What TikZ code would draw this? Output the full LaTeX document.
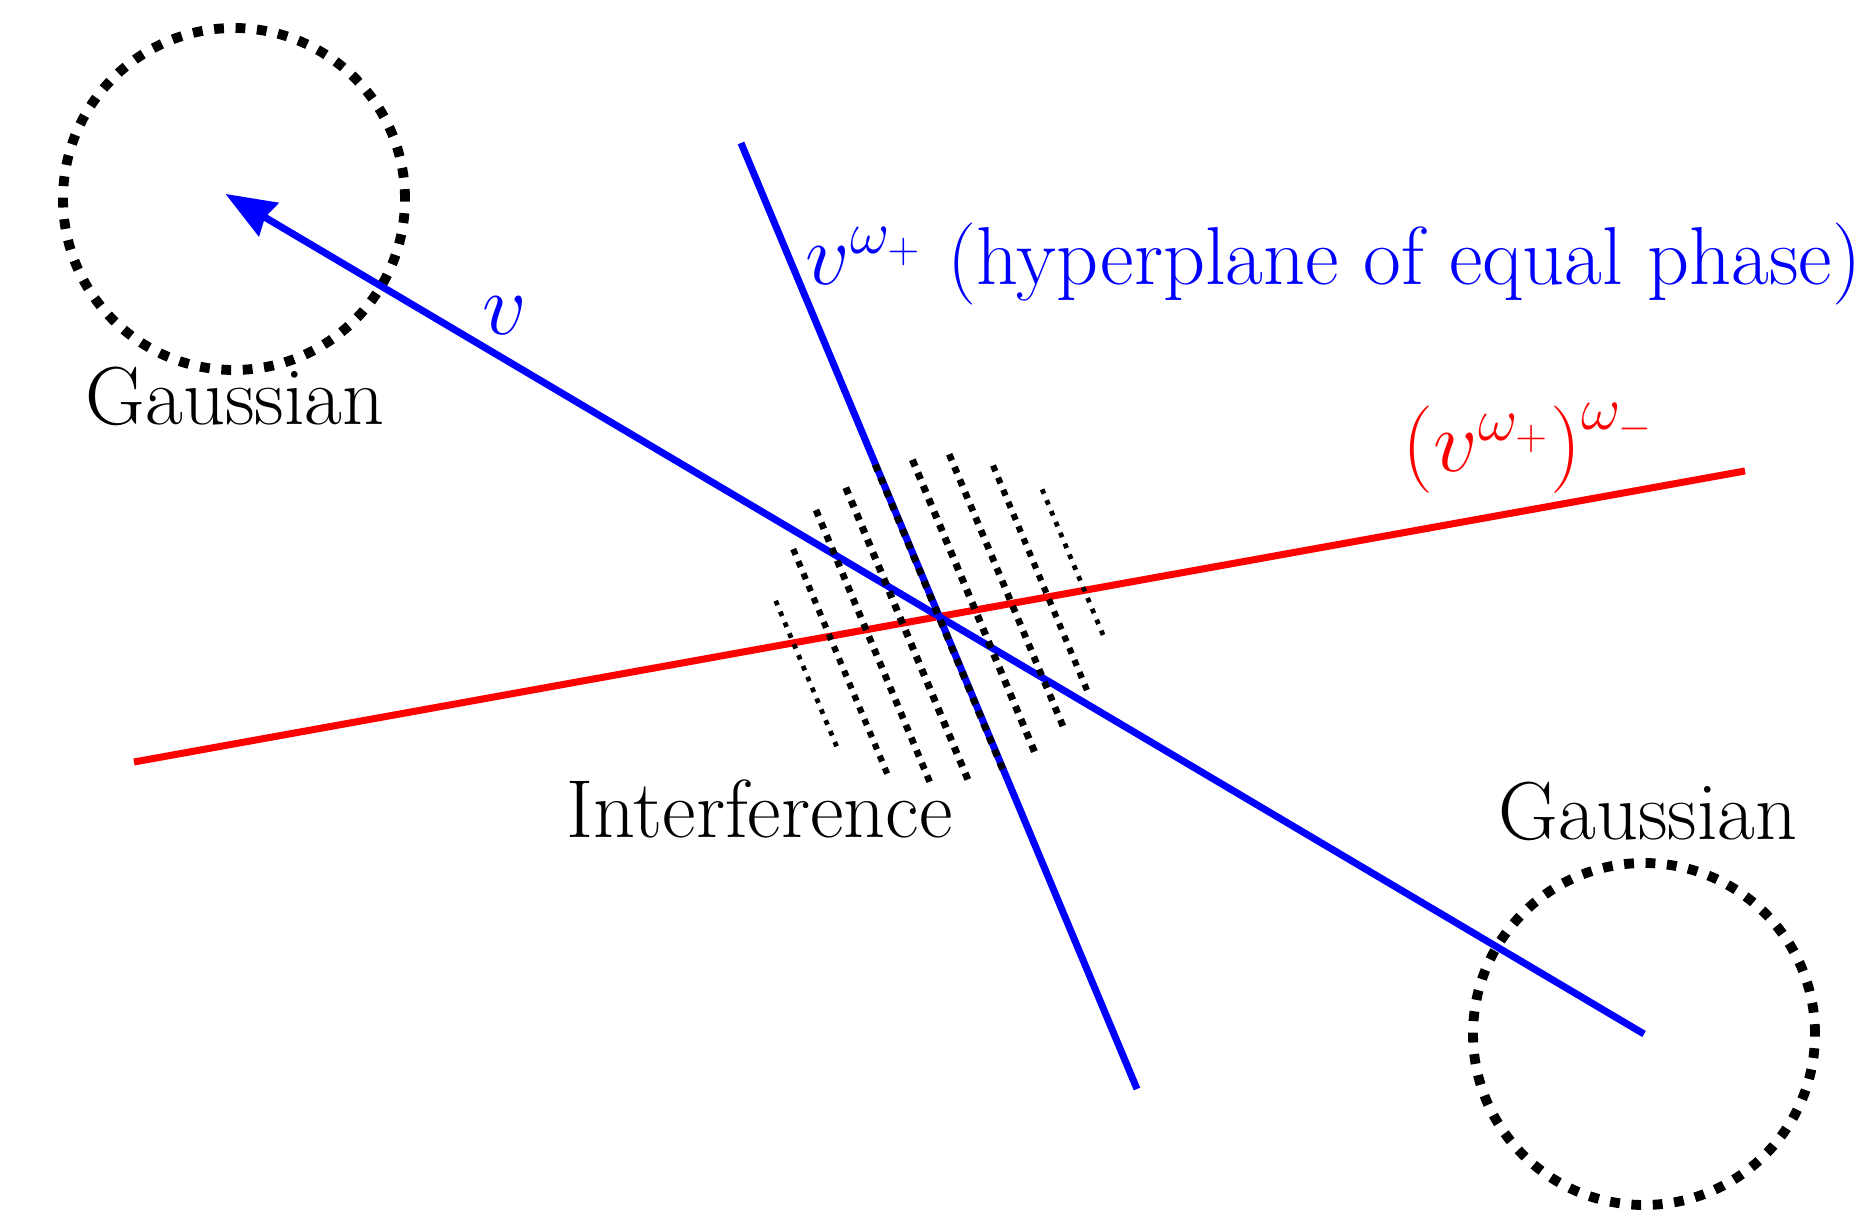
\documentclass[tikz,border=0pt]{standalone}
\usepackage{amsmath,amssymb}
\usepackage{tikz}
\usetikzlibrary{arrows.meta,calc}

\begin{document}
\begin{tikzpicture}[
          x=1cm, y=1cm,
          lbl/.style={font=\fontsize{23.4pt}{28pt}\selectfont, inner sep=0pt},
          gauss/.style={draw, circle, minimum size=3.42cm, inner sep=0pt,
                        line width=2.8pt, dash pattern=on 2.8pt off 3.3pt},
          ray/.style={line width=2pt},
          arr/.style={-{Stealth[length=5mm, width=3.8mm, inset=0.4mm]}, line width=2pt}
      ]
        \useasboundingbox (0,0) rectangle (18.73,12.09);
        \coordinate (O) at (9.39,5.92);
        \coordinate (hpT) at (7.41,10.66);
        \coordinate (hpB) at (11.37,1.20);
        \coordinate (rdL) at (1.34,4.47);
        \coordinate (rdR) at (17.45,7.38);
        \node[gauss] (gl) at (2.34,10.10) {};
        \node[gauss] (gr) at (16.44,1.75) {};
        \draw[ray, red] (rdL) -- (rdR);
        \draw[ray, blue] (hpT) -- (hpB);
        \draw[arr, blue, shorten >=-1mm] (gr.center) -- (gl.center);
        % fringes, cut to a disc round O
        \begin{scope}[shift={(O)}, rotate=22.7]
          \foreach \k/\w in {-4/1.35,-3/1.75,-2/1.9,-1/2,0/2,1/2,2/1.9,3/1.75,4/1.35}{
            \pgfmathsetmacro{\len}{sqrt(1.65^2-(\k*0.361)^2)}
            \draw[line width=\w pt, dotted] (\k*0.361,-\len) -- (\k*0.361,\len);
          }
        \end{scope}
        \node[lbl, anchor=base] (gltxt) at (2.35,7.84) {Gaussian};
        \node[lbl, anchor=base] (grtxt) at (16.48,3.69) {Gaussian};
        \node[lbl, anchor=base] (itxt) at (7.595,3.71) {Interference};
        \node[lbl, blue, anchor=base] (vtxt) at (5.05,8.74) {$v$};
        \node[lbl, blue, anchor=base west] (hptxt) at (8.05,9.24) {$v^{\omega_+}$ (hyperplane of equal phase)};
        \node[lbl, red, anchor=base west] (rdtxt) at (14.02,7.37) {$\left(v^{\omega_+}\right)^{\omega_-}$};
      \end{tikzpicture}
\end{document}
